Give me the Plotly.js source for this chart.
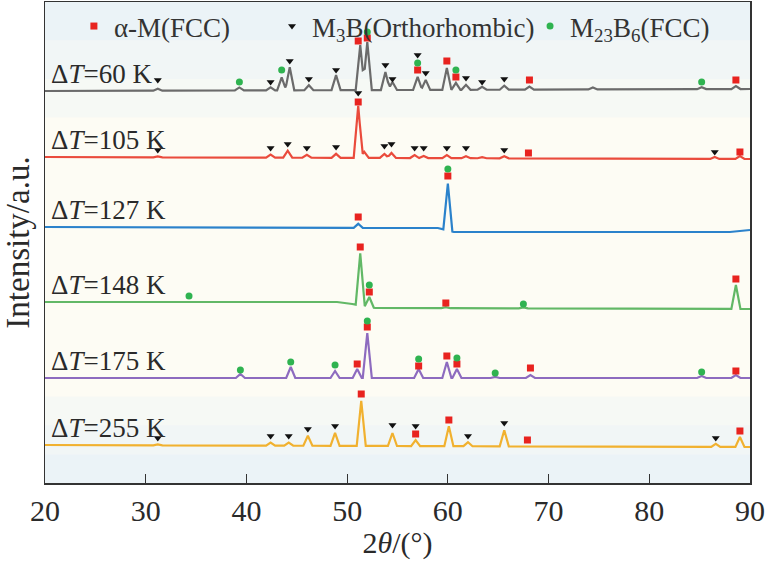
<!DOCTYPE html>
<html>
<head>
<meta charset="utf-8">
<script src="https://cdn.plot.ly/plotly-3.0.1.min.js"></script>
<style>
  html, body { margin: 0; padding: 0; background: #ffffff; }
  #plot { width: 768px; height: 564px; }
</style>
</head>
<body>
<div id="plot"></div>
<script>
// sample labels
var labels = ["Δ<i>T</i>=60 K", "Δ<i>T</i>=105 K", "Δ<i>T</i>=127 K", "Δ<i>T</i>=148 K", "Δ<i>T</i>=175 K", "Δ<i>T</i>=255 K"];
var phaseNames = ["α-M(FCC)", "M<sub>3</sub>B(Orthorhombic)", "M<sub>23</sub>B<sub>6</sub>(FCC)"];
var xTicks = [20, 30, 40, 50, 60, 70, 80, 90];

// ---- dT = 60 K (grey) ----
var g60BaseX = [20, 90];
var g60BaseY = [392, 394];
var g60PeakX = [31.2, 39.3, 42.4, 43.5, 44.3, 46.2, 48.9, 51.3, 52.0, 53.8, 54.5, 57.0, 57.8, 59.9, 60.8, 61.8, 63.4, 65.6, 68.1, 74.4, 85.2, 88.6];
var g60PeakH = [2, 3, 3, 13, 23, 5, 15, 45, 48, 18, 8, 13, 10, 22, 7, 5, 3, 4, 3, 2, 2, 3];
var g60SqX = [51.1, 52.0, 57.0, 59.9, 60.8, 68.1, 88.6];
var g60SqY = [442, 445, 413, 422, 406, 403, 403];
var g60TriX = [31.2, 42.4, 44.3, 46.2, 48.9, 53.8, 54.5, 57.0, 57.8, 61.8, 63.4, 65.6];
var g60TriY = [403, 401, 422, 404, 413, 418, 404, 428, 410, 405, 401, 404];
var g60CirX = [39.3, 43.5, 52.0, 57.0, 60.8, 85.2];
var g60CirY = [401, 413, 451, 420, 413, 401];

// ---- dT = 105 K (red) ----
var r105BaseX = [20, 90];
var r105BaseY = [326, 324];
var r105PeakX = [31.2, 42.4, 44.1, 46.0, 48.9, 51.1, 51.7, 53.7, 54.4, 56.7, 57.6, 59.9, 61.8, 63.4, 65.6, 86.5, 89.0];
var r105PeakH = [1, 3, 7, 3, 4, 52, 6, 4, 5, 3, 2, 3, 2, 1, 2, 2, 3];
var r105SqX = [51.1, 68.0, 89.0];
var r105SqY = [381, 330, 331];
var r105TriX = [31.2, 42.4, 44.1, 46.0, 48.9, 51.1, 53.7, 54.4, 56.7, 57.6, 59.9, 61.8, 65.6, 86.5];
var r105TriY = [333, 335, 339, 335, 336, 390, 337, 339, 335, 335, 335, 335, 333, 331];
var r105CirX = [];
var r105CirY = [];

// ---- dT = 127 K (blue) ----
var b127BaseX = [20, 59, 60.6, 88, 90];
var b127BaseY = [256, 255, 251, 251, 253];
var b127PeakX = [51.1, 60.0];
var b127PeakH = [4, 47];
var b127SqX = [51.1, 60.0];
var b127SqY = [266, 307];
var b127TriX = [];
var b127TriY = [];
var b127CirX = [60.0];
var b127CirY = [314];

// ---- dT = 148 K (green) ----
var g148BaseX = [20, 49, 50.5, 52.8, 90];
var g148BaseY = [181, 181, 179, 175, 174];
var g148PeakX = [51.3, 52.2, 59.8, 67.5, 88.6];
var g148PeakH = [52, 10, 1, 1, 24];
var g148SqX = [51.3, 52.2, 59.8, 88.6];
var g148SqY = [236, 191, 180, 204];
var g148TriX = [];
var g148TriY = [];
var g148CirX = [34.3, 52.2, 67.5];
var g148CirY = [187, 198, 179];

// ---- dT = 175 K (purple) ----
var p175BaseX = [20, 90];
var p175BaseY = [105, 105];
var p175PeakX = [39.4, 44.4, 48.8, 51.0, 52.0, 57.1, 59.9, 60.9, 64.7, 68.2, 85.2, 88.6];
var p175PeakH = [4, 11, 7, 9, 45, 9, 16, 9, 1, 3, 2, 3];
var p175SqX = [51.0, 52.0, 57.1, 59.9, 60.9, 68.2, 88.6];
var p175SqY = [119, 156, 117, 127, 119, 115, 112];
var p175TriX = [];
var p175TriY = [];
var p175CirX = [39.4, 44.4, 48.8, 52.0, 57.1, 60.9, 64.7, 85.2];
var p175CirY = [113, 121, 118, 162, 124, 125, 110, 111];

// ---- dT = 255 K (orange) ----
var o255BaseX = [20, 90];
var o255BaseY = [38, 36];
var o255PeakX = [31.2, 42.4, 44.2, 46.1, 48.8, 51.4, 54.5, 56.8, 60.1, 62.0, 65.6, 86.6, 89.0];
var o255PeakH = [1, 3, 3, 10, 13, 45, 13, 6, 20, 4, 16, 3, 10];
var o255SqX = [51.4, 56.8, 60.1, 67.9, 89.0];
var o255SqY = [89, 49, 63, 43, 52];
var o255TriX = [31.2, 42.4, 44.2, 46.1, 48.8, 54.5, 56.8, 62.0, 65.6, 86.6];
var o255TriY = [45, 47, 47, 54, 57, 58, 57, 47, 60, 45];
var o255CirX = [];
var o255CirY = [];

var lineColors = ["#6b6b6b", "#ea4b3c", "#2b82cb", "#62b866", "#8d6bbf", "#f1b12f"];
var series = [
    [g60BaseX, g60BaseY, g60PeakX, g60PeakH],
    [r105BaseX, r105BaseY, r105PeakX, r105PeakH],
    [b127BaseX, b127BaseY, b127PeakX, b127PeakH],
    [g148BaseX, g148BaseY, g148PeakX, g148PeakH],
    [p175BaseX, p175BaseY, p175PeakX, p175PeakH],
    [o255BaseX, o255BaseY, o255PeakX, o255PeakH]
];

var serif = "Liberation Serif, Times New Roman, DejaVu Serif, serif";
var halfWidth = 0.45;   // peak foot half width, degrees

function baseAt(bx, by, x) {
    for (var i = 0; i < bx.length - 1; i++) {
        if (x >= bx[i] && x <= bx[i + 1]) {
            return by[i] + (by[i + 1] - by[i]) * (x - bx[i]) / (bx[i + 1] - bx[i]);
        }
    }
    return x < bx[0] ? by[0] : by[by.length - 1];
}

// piecewise-linear pattern: baseline plus a triangle for each read peak
function pattern(bx, by, px, ph) {
    var xs = bx.slice();
    for (var i = 0; i < px.length; i++) {
        xs.push(Math.max(20, px[i] - halfWidth), px[i], Math.min(90, px[i] + halfWidth));
    }
    xs.sort(function(a, b) { return a - b; });
    var ys = [];
    for (var k = 0; k < xs.length; k++) {
        var y = baseAt(bx, by, xs[k]);
        for (var j = 0; j < px.length; j++) {
            var d = Math.abs(xs[k] - px[j]) / halfWidth;
            if (d < 1) y += ph[j] * (1 - d);
        }
        ys.push(y);
    }
    return { x: xs, y: ys };
}

var data = [];
for (var s = 0; s < series.length; s++) {
    var p = pattern(series[s][0], series[s][1], series[s][2], series[s][3]);
    data.push({
        x: p.x, y: p.y, type: "scatter", mode: "lines",
        line: { color: lineColors[s], width: 2.2, shape: "linear" },
        showlegend: false, hoverinfo: "skip"
    });
}

var sqX = g60SqX.concat(r105SqX, b127SqX, g148SqX, p175SqX, o255SqX);
var sqY = g60SqY.concat(r105SqY, b127SqY, g148SqY, p175SqY, o255SqY);
var triX = g60TriX.concat(r105TriX, b127TriX, g148TriX, p175TriX, o255TriX);
var triY = g60TriY.concat(r105TriY, b127TriY, g148TriY, p175TriY, o255TriY);
var cirX = g60CirX.concat(r105CirX, b127CirX, g148CirX, p175CirX, o255CirX);
var cirY = g60CirY.concat(r105CirY, b127CirY, g148CirY, p175CirY, o255CirY);

data.push({ x: sqX, y: sqY, type: "scatter", mode: "markers", name: phaseNames[0], legend: "legend",
    marker: { symbol: "square", size: 7, color: "#e8231f" } });
data.push({ x: triX, y: triY, type: "scatter", mode: "markers", name: phaseNames[1], legend: "legend2",
    marker: { symbol: "triangle-down", size: 7, color: "#111111" } });
data.push({ x: cirX, y: cirY, type: "scatter", mode: "markers", name: phaseNames[2], legend: "legend3",
    marker: { symbol: "circle", size: 7, color: "#2fb350" } });

var annotations = [];
for (var a = 0; a < labels.length; a++) {
    annotations.push({
        x: 20.4, y: series[a][1][0] + 17, xref: "x", yref: "y",
        text: labels[a], showarrow: false, xanchor: "left", yanchor: "middle",
        font: { family: serif, size: 27, color: "#2a2a2a" }
    });
}

// soft blue tint at top and bottom of the plot area
var shapes = [];
var bands = [[0.92, 1.0, 0.9], [0.84, 0.92, 0.6], [0.76, 0.84, 0.3], [0.0, 0.06, 0.9], [0.06, 0.12, 0.6], [0.12, 0.18, 0.3]];
for (var b = 0; b < bands.length; b++) {
    shapes.push({ type: "rect", xref: "paper", yref: "paper", x0: 0, x1: 1, y0: bands[b][0], y1: bands[b][1],
        fillcolor: "#e9f2f7", opacity: bands[b][2], line: { width: 0 }, layer: "below" });
}

function legendAt(x) {
    return {
        orientation: "h", x: x, y: 1.0, xanchor: "left", yanchor: "top",
        bgcolor: "rgba(0,0,0,0)", font: { family: serif, size: 27, color: "#333333" },
        itemwidth: 30
    };
}

var layout = {
    width: 768, height: 564,
    margin: { l: 45, r: 18, t: 2, b: 81 },
    paper_bgcolor: "#ffffff",
    plot_bgcolor: "#fdfcf4",
    font: { family: serif, color: "#2a2a2a" },
    showlegend: true,
    legend: legendAt(0.041),
    legend2: legendAt(0.322),
    legend3: legendAt(0.688),
    xaxis: {
        range: [20, 90], tickvals: xTicks, ticks: "inside", ticklen: 9, tickwidth: 1.2, tickcolor: "#333",
        showline: true, linecolor: "#333", linewidth: 1.5, mirror: true, showgrid: false, zeroline: false,
        tickfont: { family: serif, size: 30, color: "#2a2a2a" },
        title: { text: "2<i>θ</i>/(°)", font: { family: serif, size: 30, color: "#2a2a2a" }, standoff: 6 }
    },
    yaxis: {
        range: [0, 481], showticklabels: false, ticks: "", showgrid: false, zeroline: false,
        showline: true, linecolor: "#333", linewidth: 1.5, mirror: true,
        title: { text: "Intensity/a.u.", font: { family: serif, size: 33, color: "#2a2a2a" }, standoff: 8 }
    },
    annotations: annotations,
    shapes: shapes
};

Plotly.newPlot("plot", data, layout, { displayModeBar: false, staticPlot: true });
</script>
</body>
</html>
